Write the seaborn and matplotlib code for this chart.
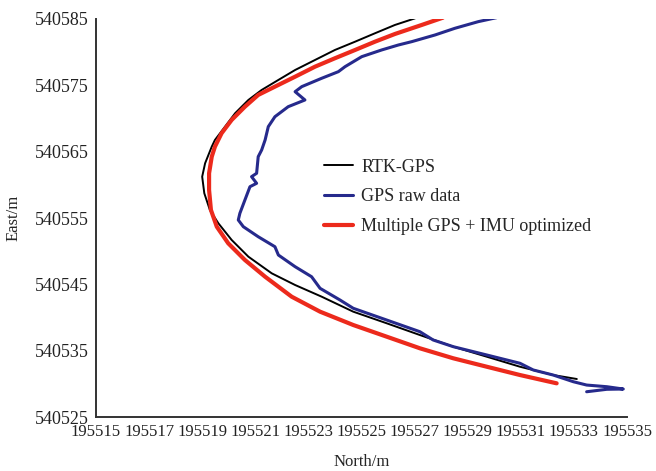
import pandas as pd
import seaborn as sns
import matplotlib.pyplot as plt

# trajectories (North, East in metres)
rtk_north = [195527.02, 195526.26, 195525.51, 195524.76, 195524.00, 195523.25, 195522.50,
             195521.87, 195521.24, 195520.74, 195520.24, 195519.86, 195519.48, 195519.36,
             195519.11, 195519.00, 195519.08, 195519.29, 195519.61, 195520.11, 195520.74,
             195521.62, 195522.50, 195523.50, 195524.69, 195525.95, 195527.20, 195528.46,
             195529.72, 195530.97, 195532.22, 195533.11]
rtk_east = [540585.1, 540584.10, 540582.85, 540581.58, 540580.33, 540578.82, 540577.31,
            540575.81, 540574.30, 540572.79, 540570.79, 540568.77, 540566.76, 540565.75,
            540563.25, 540561.23, 540558.73, 540556.21, 540554.20, 540551.69, 540549.17,
            540546.66, 540544.90, 540543.14, 540540.88, 540539.13, 540537.36, 540535.60,
            540534.09, 540532.58, 540531.33, 540530.73]

raw_north = [195530.09, 195529.40, 195528.52, 195527.77, 195526.89, 195526.39, 195525.76,
             195525.01, 195524.38, 195524.13, 195523.50, 195522.75, 195522.50, 195522.87,
             195522.24, 195521.74, 195521.49, 195521.37, 195521.24, 195521.11, 195521.05,
             195520.86, 195521.05, 195520.80, 195520.61, 195520.42, 195520.36, 195520.55,
             195521.11, 195521.74, 195521.87, 195522.50, 195523.12, 195523.44, 195524.19,
             195524.69, 195525.95, 195527.20, 195527.70, 195528.46, 195529.72, 195530.97,
             195531.47, 195532.22, 195532.98, 195533.48, 195534.24, 195534.86, 195534.24,
             195533.48]
raw_east = [540585.2, 540584.60, 540583.60, 540582.59, 540581.58, 540581.08, 540580.33,
            540579.32, 540577.81, 540577.06, 540576.06, 540574.80, 540574.04, 540572.79,
            540571.78, 540570.27, 540568.77, 540566.76, 540565.25, 540564.24, 540561.74,
            540561.23, 540560.23, 540559.72, 540557.72, 540555.71, 540554.70, 540553.69,
            540552.18, 540550.67, 540549.42, 540547.66, 540546.15, 540544.40, 540542.64,
            540541.39, 540539.62, 540537.86, 540536.61, 540535.60, 540534.35, 540533.10,
            540532.09, 540531.33, 540530.32, 540529.82, 540529.57, 540529.22, 540529.18,
            540528.81]

opt_north = [195528.07, 195527.27, 195526.26, 195525.51, 195524.76, 195524.00, 195523.25,
             195522.50, 195521.74, 195521.11, 195520.61, 195520.11, 195519.73, 195519.48,
             195519.36, 195519.26, 195519.26, 195519.33, 195519.55, 195519.98, 195520.61,
             195521.37, 195522.37, 195523.44, 195524.69, 195525.95, 195527.20, 195528.46,
             195529.72, 195530.97, 195532.35]
opt_east = [540585.2, 540584.10, 540582.74, 540581.58, 540580.33, 540579.08, 540577.81,
            540576.30, 540574.80, 540573.55, 540571.78, 540569.78, 540567.77, 540565.75,
            540564.24, 540561.74, 540559.22, 540556.21, 540553.69, 540551.19, 540548.67,
            540546.15, 540543.14, 540540.88, 540538.87, 540537.11, 540535.36, 540533.85,
            540532.58, 540531.33, 540530.08]

x_ticks = [195515, 195517, 195519, 195521, 195523, 195525, 195527, 195529, 195531, 195533, 195535]
y_ticks = [540525, 540535, 540545, 540555, 540565, 540575, 540585]

sns.set_style('white')
plt.rcParams['font.family'] = ['Liberation Serif', 'DejaVu Serif']

fig = plt.figure(figsize=(6.56, 4.71), dpi=100)
ax = fig.add_axes([0.1463, 0.1146, 0.8095, 0.8451])

sns.lineplot(x=rtk_north, y=rtk_east, sort=False, estimator=None, color='black',
             linewidth=1.4, label='RTK-GPS', ax=ax)
sns.lineplot(x=raw_north, y=raw_east, sort=False, estimator=None, color='#262a8c',
             linewidth=2.2, label='GPS raw data', ax=ax)
sns.lineplot(x=opt_north, y=opt_east, sort=False, estimator=None, color='#ec2a1c',
             linewidth=3.0, label='Multiple GPS + IMU optimized', ax=ax)

ax.set_xlim(195515, 195535)
ax.set_ylim(540525, 540585)
ax.set_xticks(x_ticks)
ax.set_xticklabels([str(t) for t in x_ticks])
ax.set_yticks(y_ticks)
ax.set_yticklabels([str(t) for t in y_ticks])
ax.tick_params(direction='in', length=4, width=1.4, colors='#222222', pad=5)
ax.tick_params(axis='x', labelsize=12)
ax.tick_params(axis='y', labelsize=13)

for s in ['top', 'right']:
    ax.spines[s].set_visible(False)
for s in ['left', 'bottom']:
    ax.spines[s].set_linewidth(1.4)
    ax.spines[s].set_color('#333333')

ax.set_xlabel('North/m', fontsize=12, labelpad=10)
ax.set_ylabel('East/m', fontsize=12, labelpad=10)

ax.legend(loc='upper left', bbox_to_anchor=(0.398, 0.69), frameon=False, fontsize=13,
          handlelength=1.65, handletextpad=0.45, labelspacing=0.7)

fig.savefig('out.png', dpi=100)
